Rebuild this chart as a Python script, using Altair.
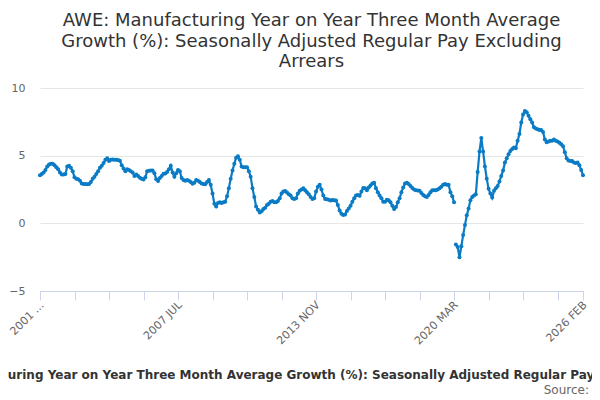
import altair as alt
import pandas as pd

# ---- data -------------------------------------------------------------
START_YEAR = 2001
START_MONTH = 3  # MAR
MONTHS = ["JAN", "FEB", "MAR", "APR", "MAY", "JUN",
          "JUL", "AUG", "SEP", "OCT", "NOV", "DEC"]

growth = [
    3.55, 3.65, 3.75, 3.95, 4.2, 4.35, 4.4, 4.4, 4.3, 4.15,
    4.0, 3.75, 3.6, 3.6, 3.65, 4.2, 4.25, 4.1, 3.85, 3.4,
    3.3, 3.25, 3.15, 2.95, 2.9, 2.9, 2.88, 2.9, 3.05, 3.3,
    3.45, 3.65, 3.85, 4.1, 4.25, 4.45, 4.7, 4.8, 4.6, 4.7,
    4.72, 4.7, 4.7, 4.68, 4.62, 4.3, 4.05, 3.85, 4.0, 3.95,
    3.85, 3.75, 3.5, 3.6, 3.5, 3.37, 3.3, 3.24, 3.4, 3.85,
    3.88, 3.9, 3.9, 3.7, 3.25, 3.12, 3.35, 3.5, 3.66, 3.68,
    3.8, 4.0, 4.25, 3.75, 3.45, 3.7, 3.95, 3.85, 3.35, 3.2,
    3.15, 3.2, 3.15, 3.05, 2.93, 3.0, 3.2, 3.15, 3.05, 2.95,
    2.9, 2.88, 3.05, 3.2, 2.85, 2.2, 1.45, 1.25, 1.5, 1.55,
    1.5, 1.55, 1.6, 2.0, 2.6, 3.3, 3.9, 4.4, 4.85, 4.95,
    4.7, 4.2, 4.15, 4.15, 4.15, 3.85, 3.45, 2.6, 1.95, 1.25,
    1.0, 0.8, 0.9, 1.05, 1.15, 1.35, 1.45, 1.6, 1.65, 1.55,
    1.55, 1.65, 1.85, 2.2, 2.35, 2.38, 2.28, 2.15, 2.05, 1.85,
    1.8, 1.86, 2.2, 2.4, 2.5, 2.6, 2.45, 2.3, 2.15, 1.95,
    1.8, 1.85, 2.35, 2.7, 2.85, 2.5, 2.05, 1.8, 1.78, 1.75,
    1.68, 1.72, 1.7, 1.68, 1.35, 0.95, 0.7, 0.62, 0.65, 0.92,
    1.1, 1.3, 1.6, 1.85, 2.05, 2.1, 2.03, 2.35, 2.62, 2.6,
    2.45, 2.65, 2.8, 2.95, 3.0, 2.6, 2.3, 2.05, 1.85, 1.6,
    1.6, 1.75, 1.7, 1.55, 1.3, 1.05, 1.2, 1.55, 1.85, 2.3,
    2.65, 2.95, 3.0, 2.9, 2.75, 2.62, 2.5, 2.45, 2.43, 2.4,
    2.25, 2.1, 2.0, 1.95, 2.1, 2.3, 2.45, 2.45, 2.45, 2.5,
    2.6, 2.7, 2.85, 2.9, 2.85, 2.85, 2.3, 2.0, 1.55,
    # series break after 2020 MAR
    -1.57, -1.75, -2.5, -1.7, -0.87, -0.13, 0.59, 1.1, 1.7, 1.94,
    2.05, 2.15, 3.8, 5.3, 6.3, 5.3, 4.2, 3.3, 2.55, 2.2,
    1.9, 2.4, 2.6, 2.75, 3.1, 3.5, 3.9, 4.5, 4.8, 5.1,
    5.35, 5.5, 5.6, 5.55, 6.1, 6.6, 7.45, 8.05, 8.3, 8.2,
    7.95, 7.7, 7.45, 7.1, 7.0, 6.95, 6.9, 6.9, 6.75, 6.2,
    6.0, 6.05, 6.1, 6.1, 6.2, 6.1, 6.05, 5.95, 5.85, 5.7,
    5.25, 4.8, 4.65, 4.6, 4.6, 4.5, 4.45, 4.5, 4.3, 3.95,
    3.55,
]
BREAK_AFTER = "2020 MAR"

periods = [
    f"{START_YEAR + (START_MONTH - 1 + k) // 12} {MONTHS[(START_MONTH - 1 + k) % 12]}"
    for k in range(len(growth))
]
label_periods = ["2001 MAR", "2007 JUL", "2013 NOV", "2020 MAR", "2026 FEB"]
y_ticks = [-5, 0, 5, 10]

TITLE = ("AWE: Manufacturing Year on Year Three Month Average Growth (%): "
         "Seasonally Adjusted Regular Pay Excluding Arrears")

# ---- build table --------------------------------------------------------
break_idx = periods.index(BREAK_AFTER)
df = pd.DataFrame({
    "i": list(range(len(growth))),
    "period": periods,
    "value": growth,
    "seg": [0 if k <= break_idx else 1 for k in range(len(growth))],
})

last = len(growth) - 1
tick_vals = list(range(0, last, 19)) + [last]
label_idx = [periods.index(p) for p in label_periods]

expr = "''"
for idx, lab in reversed(list(zip(label_idx, label_periods))):
    txt = f"truncate('{lab}', 6)" if idx == 0 else f"'{lab}'"
    expr = f"datum.value == {idx} ? {txt} : ({expr})"

BLUE = "#0a7bc4"
FONT = "DejaVu Sans"

line = alt.Chart(df).mark_line(
    color=BLUE, strokeWidth=2.2,
    point=alt.OverlayMarkDef(filled=True, size=16, color=BLUE, opacity=1),
).encode(
    x=alt.X("i:Q",
            scale=alt.Scale(domain=[0, last], nice=False, zero=False),
            axis=alt.Axis(values=tick_vals, labelExpr=expr, labelAngle=-45,
                          labelAlign="right", labelBaseline="middle",
                          labelOverlap=False, labelFontSize=11,
                          labelColor="#666666", labelFont=FONT,
                          labelPadding=3, labelOffset=2,
                          tickSize=9, tickColor="#ccd6eb", domainColor="#ccd6eb",
                          grid=False, title=TITLE, titleFont=FONT,
                          titleFontSize=12, titleFontWeight="bold",
                          titleColor="#333333", titleBaseline="middle",
                          titleY=83)),
    y=alt.Y("value:Q",
            scale=alt.Scale(domain=[-5, 10], nice=False, zero=False),
            axis=alt.Axis(values=y_ticks, domain=False, ticks=False,
                          labelPadding=15, labelFontSize=11,
                          labelColor="#666666", labelFont=FONT,
                          gridColor="#e6e6e6", title=None)),
    detail="seg:N",
)

src = alt.Chart(pd.DataFrame({"t": ["Source:"]})).mark_text(
    align="right", baseline="middle", font=FONT, fontSize=12, color="#666666"
).encode(text="t:N", x=alt.value(549), y=alt.value(302))

chart = alt.layer(line, src).properties(
    width=543, height=203,
    autosize="none",
    padding={"left": 32, "top": 80, "right": 9, "bottom": 110},
    title=alt.TitleParams(
        ["AWE: Manufacturing Year on Year Three Month Average",
         "Growth (%): Seasonally Adjusted Regular Pay Excluding",
         "Arrears"],
        font=FONT, fontSize=18, fontWeight="normal", color="#333333",
        anchor="middle", offset=11, lineHeight=20.5),
).configure_view(stroke=None)

chart.save("out.html", embed_options={"renderer": "svg", "actions": False})
